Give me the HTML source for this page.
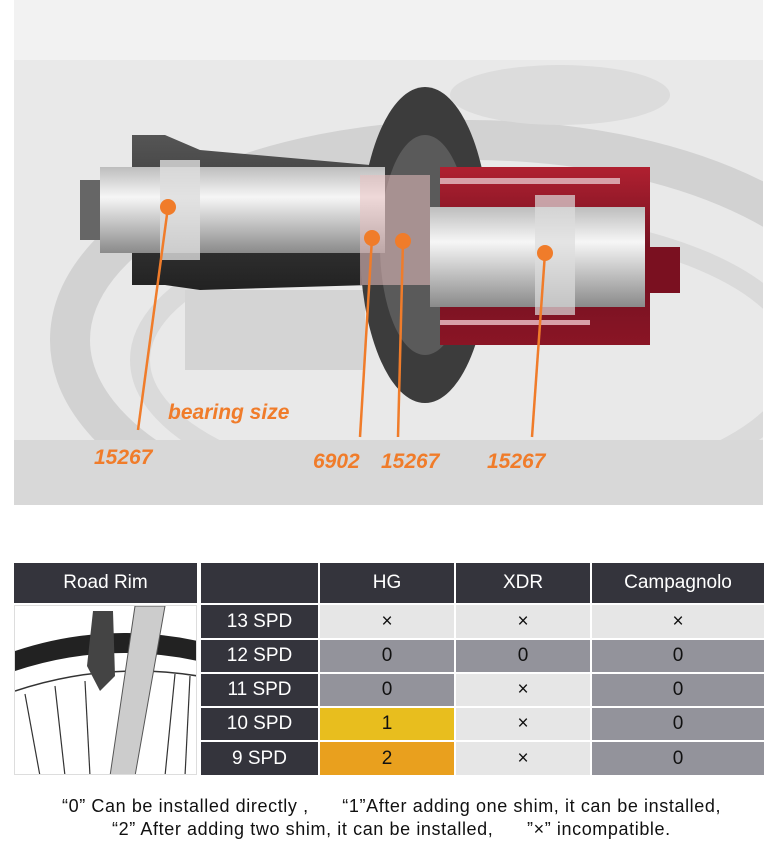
<!DOCTYPE html>
<html><head><style>
body{margin:0;width:775px;height:860px;background:#fff;position:relative;overflow:hidden;font-family:"Liberation Sans",sans-serif}
.c{position:absolute;display:flex;align-items:center;justify-content:center;font-size:19px;color:#111}
.h{background:#34343c;color:#fff}
.l{background:#e6e6e6}
.g{background:#93939b}
.y{background:#e8be1e}
.o{background:#e9a01e}
.t{position:absolute;font-size:18px;letter-spacing:0.6px;color:#111;white-space:pre}
</style></head><body>
<svg width="775" height="520" style="position:absolute;left:0;top:0">
<defs>
<clipPath id="cp"><rect x="14" y="0" width="749" height="505"/></clipPath>
<linearGradient id="ax" x1="0" y1="0" x2="0" y2="1"><stop offset="0" stop-color="#bdbdbd"/><stop offset=".35" stop-color="#f6f6f6"/><stop offset="1" stop-color="#8a8a8a"/></linearGradient>
<linearGradient id="dk" x1="0" y1="0" x2="0" y2="1"><stop offset="0" stop-color="#555"/><stop offset=".5" stop-color="#3a3a3a"/><stop offset="1" stop-color="#222"/></linearGradient>
<linearGradient id="rd" x1="0" y1="0" x2="0" y2="1"><stop offset="0" stop-color="#b02030"/><stop offset=".5" stop-color="#6e1020"/><stop offset="1" stop-color="#8a1525"/></linearGradient>
</defs>
<g clip-path="url(#cp)">
<rect x="14" y="0" width="749" height="505" fill="#e9e9e9"/>
<rect x="14" y="0" width="749" height="60" fill="#f2f2f2"/>
<ellipse cx="470" cy="340" rx="400" ry="200" fill="none" stroke="#d2d2d2" stroke-width="40"/>
<ellipse cx="470" cy="360" rx="330" ry="140" fill="none" stroke="#dadada" stroke-width="20"/>
<ellipse cx="560" cy="95" rx="110" ry="30" fill="#dcdcdc"/>
<rect x="14" y="440" width="749" height="65" fill="#d8d8d8"/>
<rect x="185" y="290" width="180" height="80" fill="#d4d4d4"/>
<polygon points="132,135 165,135 200,150 370,165 370,285 200,290 165,285 132,285" fill="url(#dk)"/>
<ellipse cx="425" cy="245" rx="65" ry="158" fill="#3c3c3c"/>
<ellipse cx="425" cy="245" rx="45" ry="110" fill="#5a5a5a"/>
<rect x="440" y="167" width="210" height="178" fill="url(#rd)"/>
<rect x="440" y="178" width="180" height="6" fill="#d8a0a8"/>
<rect x="440" y="320" width="150" height="5" fill="#d8a0a8"/>
<rect x="80" y="180" width="28" height="60" fill="#666"/>
<rect x="100" y="167" width="285" height="86" fill="url(#ax)"/>
<rect x="160" y="160" width="40" height="100" fill="#ddd" opacity=".8"/>
<rect x="360" y="175" width="70" height="110" fill="#e8c0c0" opacity=".55"/>
<rect x="430" y="207" width="215" height="100" fill="url(#ax)"/>
<rect x="535" y="195" width="40" height="120" fill="#ddd" opacity=".7"/>
<rect x="645" y="247" width="35" height="46" fill="#7a1020"/>
<g stroke="#f07c2a" stroke-width="2.5">
<line x1="168" y1="207" x2="138" y2="430"/>
<line x1="372" y1="238" x2="360" y2="437"/>
<line x1="403" y1="241" x2="398" y2="437"/>
<line x1="545" y1="253" x2="532" y2="437"/>
</g>
<g fill="#f07c2a">
<circle cx="168" cy="207" r="8"/><circle cx="372" cy="238" r="8"/><circle cx="403" cy="241" r="8"/><circle cx="545" cy="253" r="8"/>
</g>
<g fill="#f07c2a" font-family="Liberation Sans" font-weight="bold" font-style="italic" font-size="21">
<text x="168" y="419">bearing size</text>
<text x="94" y="464">15267</text>
<text x="313" y="468">6902</text>
<text x="381" y="468">15267</text>
<text x="487" y="468">15267</text>
</g>
</g>
</svg>

<div class="c h" style="left:14px;top:563px;width:183px;height:40px">Road Rim</div>
<div class="c h" style="left:201px;top:563px;width:117px;height:40px"></div>
<div class="c h" style="left:320px;top:563px;width:134px;height:40px">HG</div>
<div class="c h" style="left:456px;top:563px;width:134px;height:40px">XDR</div>
<div class="c h" style="left:592px;top:563px;width:172px;height:40px">Campagnolo</div>

<svg width="183" height="170" style="position:absolute;left:14px;top:605px;background:#fff;border:1px solid #ddd;box-sizing:border-box">
<path d="M0,45 Q90,15 183,35 L183,55 Q90,35 0,65Z" fill="#222"/>
<path d="M0,85 Q90,55 183,70" fill="none" stroke="#333" stroke-width="1.5"/>
<g stroke="#333" stroke-width="1.2"><line x1="10" y1="88" x2="25" y2="170"/><line x1="40" y1="80" x2="50" y2="170"/><line x1="70" y1="75" x2="75" y2="170"/><line x1="160" y1="68" x2="150" y2="170"/><line x1="175" y1="70" x2="170" y2="170"/></g>
<polygon points="120,0 150,0 120,170 95,170" fill="#ccc" stroke="#555"/>
<polygon points="78,5 98,5 100,70 85,85 72,60" fill="#444"/>
</svg>

<div class="c h" style="left:201px;top:605px;width:117px;height:33px">13 SPD</div>
<div class="c l" style="left:320px;top:605px;width:134px;height:33px">×</div>
<div class="c l" style="left:456px;top:605px;width:134px;height:33px">×</div>
<div class="c l" style="left:592px;top:605px;width:172px;height:33px">×</div>

<div class="c h" style="left:201px;top:640px;width:117px;height:32px">12 SPD</div>
<div class="c g" style="left:320px;top:640px;width:134px;height:32px">0</div>
<div class="c g" style="left:456px;top:640px;width:134px;height:32px">0</div>
<div class="c g" style="left:592px;top:640px;width:172px;height:32px">0</div>

<div class="c h" style="left:201px;top:674px;width:117px;height:32px">11 SPD</div>
<div class="c g" style="left:320px;top:674px;width:134px;height:32px">0</div>
<div class="c l" style="left:456px;top:674px;width:134px;height:32px">×</div>
<div class="c g" style="left:592px;top:674px;width:172px;height:32px">0</div>

<div class="c h" style="left:201px;top:708px;width:117px;height:32px">10 SPD</div>
<div class="c y" style="left:320px;top:708px;width:134px;height:32px">1</div>
<div class="c l" style="left:456px;top:708px;width:134px;height:32px">×</div>
<div class="c g" style="left:592px;top:708px;width:172px;height:32px">0</div>

<div class="c h" style="left:201px;top:742px;width:117px;height:33px">9 SPD</div>
<div class="c o" style="left:320px;top:742px;width:134px;height:33px">2</div>
<div class="c l" style="left:456px;top:742px;width:134px;height:33px">×</div>
<div class="c g" style="left:592px;top:742px;width:172px;height:33px">0</div>

<div class="t" style="left:62px;top:796px">“0” Can be installed directly ,      “1”After adding one shim, it can be installed,</div>
<div class="t" style="left:112px;top:819px">“2” After adding two shim, it can be installed,      ”×” incompatible.</div>
</body></html>
